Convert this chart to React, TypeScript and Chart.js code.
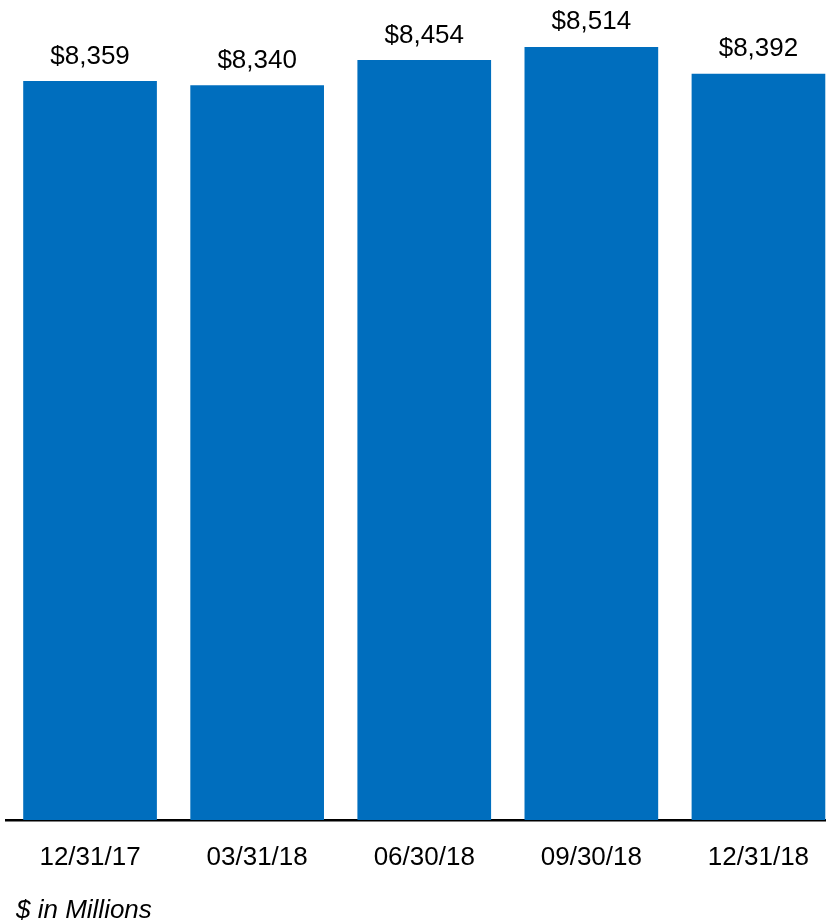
import React, { useEffect, useRef } from "react";
import { Chart, registerables } from "chart.js";

Chart.register(...registerables);

const categories: string[] = ["12/31/17", "03/31/18", "06/30/18", "09/30/18", "12/31/18"];
const values: number[] = [8359, 8340, 8454, 8514, 8392];
const footnote = "$ in Millions";

const FONT = '"Liberation Sans", Arial, Helvetica, sans-serif';
const BAR_COLOR = "#006EBE";

const labelsPlugin = {
  id: "valueLabels",
  afterDatasetsDraw(chart: any) {
    const { ctx } = chart;
    const meta = chart.getDatasetMeta(0);
    ctx.save();
    ctx.font = `26px ${FONT}`;
    ctx.fillStyle = "#000";
    ctx.textAlign = "center";
    ctx.textBaseline = "alphabetic";
    meta.data.forEach((bar: any, i: number) => {
      const v = chart.data.datasets[0].data[i] as number;
      ctx.fillText("$" + v.toLocaleString("en-US"), bar.x, bar.y - 17.5);
    });
    ctx.restore();
  },
  afterDraw(chart: any) {
    const { ctx } = chart;
    ctx.save();
    ctx.font = `italic 26px ${FONT}`;
    ctx.fillStyle = "#000";
    ctx.textAlign = "left";
    ctx.textBaseline = "alphabetic";
    ctx.fillText(footnote, 16, 917.5);
    ctx.restore();
  },
};

export default function App() {
  const canvasRef = useRef<HTMLCanvasElement | null>(null);

  useEffect(() => {
    if (!canvasRef.current) return;
    const chart = new Chart(canvasRef.current, {
      type: "bar",
      data: {
        labels: categories,
        datasets: [
          {
            data: values,
            backgroundColor: BAR_COLOR,
            borderWidth: 0,
            barPercentage: 0.8,
            categoryPercentage: 1,
          },
        ],
      },
      options: {
        animation: false,
        responsive: true,
        maintainAspectRatio: false,
        devicePixelRatio: 1,
        layout: { padding: { top: 6, left: 6.5, right: 0, bottom: 27.8 } },
        plugins: {
          legend: { display: false },
          tooltip: { enabled: false },
          title: { display: false },
        },
        scales: {
          x: {
            z: 1,
            grid: { display: false, drawTicks: false },
            border: { display: true, color: "#000", width: 2.5 },
            ticks: {
              color: "#000",
              font: { family: FONT, size: 26 },
              padding: 22,
              maxRotation: 0,
              autoSkip: false,
            },
          },
          y: {
            display: false,
            min: 5000,
            max: 8700,
          },
        },
      },
      plugins: [labelsPlugin],
    });
    return () => chart.destroy();
  }, []);

  return (
    <div
      style={{
        position: "fixed",
        left: 0,
        top: 0,
        width: 826,
        height: 923,
        overflow: "hidden",
        background: "#fff",
      }}
    >
      <div style={{ position: "relative", width: 842, height: 923 }}>
        <canvas ref={canvasRef} />
      </div>
    </div>
  );
}
